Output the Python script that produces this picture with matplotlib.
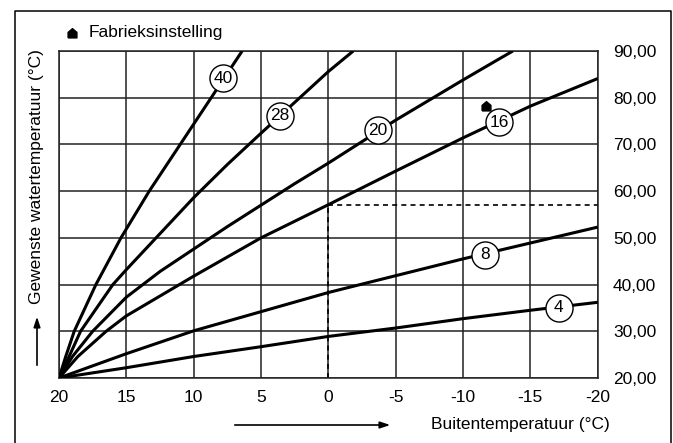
import numpy as np
import matplotlib
matplotlib.use("Agg")
import matplotlib.pyplot as plt
from matplotlib.lines import Line2D

plt.rcParams['font.family'] = ['Liberation Sans', 'DejaVu Sans']

# Stooklijnen: buitentemperatuur -> gewenste watertemperatuur
t40 = [20, 19.5, 18.87, 17.26, 15.4, 13.3, 11.0, 8.7, 6.4]
v40 = [20, 24.6, 30, 40, 50, 60, 70, 80, 90]

t28 = [20, 19.25, 18.4, 16.0, 15, 12.5, 10, 7.5, 5, 2.5, 0, -1.85]
v28 = [20, 24.6, 30, 40, 43.2, 50.9, 58.6, 65.7, 72.4, 79.0, 85.6, 90]

t20 = [20, 19.0, 17.5, 15, 12.5, 10, 7.5, 5, 2.5, 0, -2.5, -5, -7.5, -10, -12.5, -13.7]
v20 = [20, 24.6, 30, 37.3, 42.8, 47.6, 52.4, 57.0, 61.6, 66.0, 70.6, 75.2, 79.5, 83.8, 88.0, 90]

t16 = [20, 18.6, 16.5, 15, 10, 5, 0, -5, -10, -15, -20]
v16 = [20, 24.6, 30, 33.3, 41.8, 50.0, 57.1, 64.3, 71.4, 78.2, 84.1]

t8 = [20, 15, 10, 5, 0, -5, -10, -15, -20]
v8 = [20, 25.2, 30.1, 34.2, 38.3, 41.9, 45.5, 48.9, 52.3]

t4 = [20, 15, 10, 5, 0, -5, -10, -15, -20]
v4 = [20, 22.2, 24.6, 26.7, 28.9, 30.7, 32.7, 34.5, 36.2]

curves = [(t40, v40), (t28, v28), (t20, v20), (t16, v16), (t8, v8), (t4, v4)]

# labels in circles
label_text = ['40', '28', '20', '16', '8', '4']
label_t = [7.8, 3.6, -3.65, -12.7, -11.6, -17.1]
label_v = [84.2, 76.1, 73.0, 74.8, 46.4, 35.0]

# fabrieksinstelling
fab_t = -11.7
fab_v = 78.3
dash_t = 0
dash_v = 57.1

xticks = [20, 15, 10, 5, 0, -5, -10, -15, -20]
xticklabels = ['20', '15', '10', '5', '0', '-5', '-10', '-15', '-20']
yticks = [20, 30, 40, 50, 60, 70, 80, 90]
yticklabels = ['20,00', '30,00', '40,00', '50,00', '60,00', '70,00', '80,00', '90,00']

W, H = 673, 443
fig = plt.figure(figsize=(W / 100, H / 100), dpi=100)


def px(x, y):
    return x / W, 1 - y / H


# huisje-symbool
house = [(-1, -1), (1, -1), (1, 0.25), (0, 1.1), (-1, 0.25), (-1, -1)]

ax = fig.add_axes([59 / W, 1 - 378 / H, 538.7 / W, 327 / H])
ax.set_xlim(20, -20)
ax.set_ylim(20, 90)

ax.set_xticks(xticks)
ax.set_xticklabels(xticklabels)
ax.set_yticks(yticks)
ax.set_yticklabels(yticklabels)
ax.yaxis.tick_right()
ax.tick_params(axis='both', length=0, labelsize=12.5)
ax.tick_params(axis='x', pad=9)
ax.tick_params(axis='y', pad=11)
ax.grid(True, color='#222222', lw=1.1)
ax.set_axisbelow(True)
for s in ax.spines.values():
    s.set_color('#222222')
    s.set_linewidth(1.1)

for t, v in curves:
    ax.plot(t, v, color='black', lw=2.2, solid_capstyle='butt', solid_joinstyle='round', zorder=3)

# stippellijnen
ax.plot([dash_t, dash_t], [20, dash_v], color='black', lw=1.2, ls=(0, (3, 2.5)), zorder=2)
ax.plot([dash_t, -20], [dash_v, dash_v], color='black', lw=1.2, ls=(0, (3, 2.5)), zorder=2)

for txt, t, v in zip(label_text, label_t, label_v):
    ax.plot(t, v, 'o', ms=19.5, mfc='white', mec='black', mew=1.0, zorder=4)
    ax.text(t, v, txt, ha='center', va='center', fontsize=12.5, zorder=5)

ax.plot(fab_t, fab_v, marker=house, ms=7, color='black', zorder=4)

# as-titels
fig.text(*px(37, 177), 'Gewenste watertemperatuur (°C)', rotation=90,
         ha='center', va='center', fontsize=12.5)
fig.text(*px(520, 424), 'Buitentemperatuur (°C)', ha='center', va='center', fontsize=12.5)

arrow = dict(arrowstyle='-|>,head_length=0.6,head_width=0.2', color='black', lw=1.2)
fig.add_artist(plt.Annotation('', xy=px(37, 314), xytext=px(37, 368),
                              xycoords='figure fraction', textcoords='figure fraction',
                              arrowprops=arrow))
fig.add_artist(plt.Annotation('', xy=px(393, 425), xytext=px(232, 425),
                              xycoords='figure fraction', textcoords='figure fraction',
                              arrowprops=arrow))

# legenda
fig.add_artist(Line2D([72 / W], [1 - 33 / H], marker=house, ms=7, color='black',
                      transform=fig.transFigure))
fig.text(*px(89, 33), 'Fabrieksinstelling', ha='left', va='center', fontsize=12.5)

# kader
fx = [15 / W, 15 / W, 671 / W, 671 / W]
fy = [0, 1 - 11 / H, 1 - 11 / H, 0]
fig.add_artist(Line2D(fx, fy, color='black', lw=1.1, transform=fig.transFigure))

fig.savefig('out.png', dpi=100)
